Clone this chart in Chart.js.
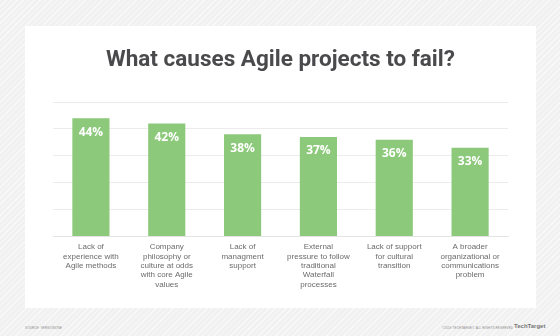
<!DOCTYPE html>
<html>
<head>
<meta charset="utf-8">
<script src="https://cdn.jsdelivr.net/npm/chart.js@4/dist/chart.umd.min.js"></script>
<style>
  html, body { margin: 0; padding: 0; }
  body {
    width: 560px; height: 336px; overflow: hidden; position: relative;
    background-color: #f1f1f1;
    background-image: repeating-linear-gradient(135deg, rgba(255,255,255,0.55) 0 1px, rgba(0,0,0,0) 1px 4px);
  }
  #card {
    position: absolute; left: 25px; top: 26px; width: 511px; height: 282px;
    background: #ffffff;
  }
  #card canvas { position: absolute; left: 0; top: 0; }
  .foot {
    position: absolute; top: 326px; font: 3px "Liberation Sans", Arial, sans-serif;
    color: #8a8a8a; letter-spacing: 0.15px; white-space: nowrap;
  }
  #logo { position: absolute; left: 514px; top: 323px; font: bold 6px "Liberation Sans Narrow", "Liberation Sans", sans-serif; color: #777; }
</style>
</head>
<body>
<div id="card"><canvas id="agileChart" width="511" height="282"></canvas></div>
<div class="foot" style="left:25px;">SOURCE: VERSIONONE</div>
<div class="foot" style="left:442px;">©2019 TECHTARGET. ALL RIGHTS RESERVED</div>
<div id="logo">TechTarget</div>
<script>
// survey answers and share of respondents (%)
var causes = [
  ["Lack of", "experience with", "Agile methods"],
  ["Company", "philosophy or", "culture at odds", "with core Agile", "values"],
  ["Lack of", "managment", "support"],
  ["External", "pressure to follow", "traditional", "Waterfall", "processes"],
  ["Lack of support", "for cultural", "transition"],
  ["A broader", "organizational or", "communications", "problem"]
];
var percents = [44, 42, 38, 37, 36, 33];
var yTicks = [0, 10, 20, 30, 40, 50];

var barGreen = "#8cc97a";

// write the percentage inside the top of each bar
var barValues = {
  id: "barValues",
  afterDatasetsDraw: function(chart) {
    var ctx = chart.ctx;
    var meta = chart.getDatasetMeta(0);
    ctx.save();
    ctx.fillStyle = "#ffffff";
    ctx.font = "bold 12px 'Open Sans', sans-serif";
    ctx.textAlign = "center";
    ctx.textBaseline = "middle";
    meta.data.forEach(function(bar, i) {
      ctx.fillText(percents[i] + "%", bar.x, bar.y + 14);
    });
    ctx.restore();
  }
};

new Chart(document.getElementById("agileChart"), {
  type: "bar",
  data: {
    labels: causes,
    datasets: [{
      data: percents,
      backgroundColor: barGreen,
      borderWidth: 0,
      barPercentage: 0.49,
      categoryPercentage: 1
    }]
  },
  options: {
    responsive: false,
    animation: false,
    layout: { padding: { left: 28, right: 28, top: 21, bottom: 13 } },
    plugins: {
      legend: { display: false },
      tooltip: { enabled: false },
      title: {
        display: true,
        text: "What causes Agile projects to fail?",
        color: "#4a4a4c",
        font: { family: "Roboto, sans-serif", size: 22.5, weight: "bold" },
        padding: { top: 0, bottom: 28 }
      }
    },
    scales: {
      x: {
        grid: { display: false, drawTicks: false, tickLength: 0 },
        border: { color: "#e4e4e4" },
        ticks: {
          color: "#6b6b6b",
          padding: 6,
          maxRotation: 0,
          autoSkip: false,
          font: { family: "'Liberation Sans', Arial, sans-serif", size: 8, lineHeight: 1.16 }
        }
      },
      y: {
        min: yTicks[0],
        max: yTicks[yTicks.length - 1],
        afterBuildTicks: function(axis) {
          axis.ticks = yTicks.map(function(v) { return { value: v }; });
        },
        grid: { color: "#ececec", drawTicks: false },
        border: { display: false },
        ticks: { display: false }
      }
    }
  },
  plugins: [barValues]
});
</script>
</body>
</html>
